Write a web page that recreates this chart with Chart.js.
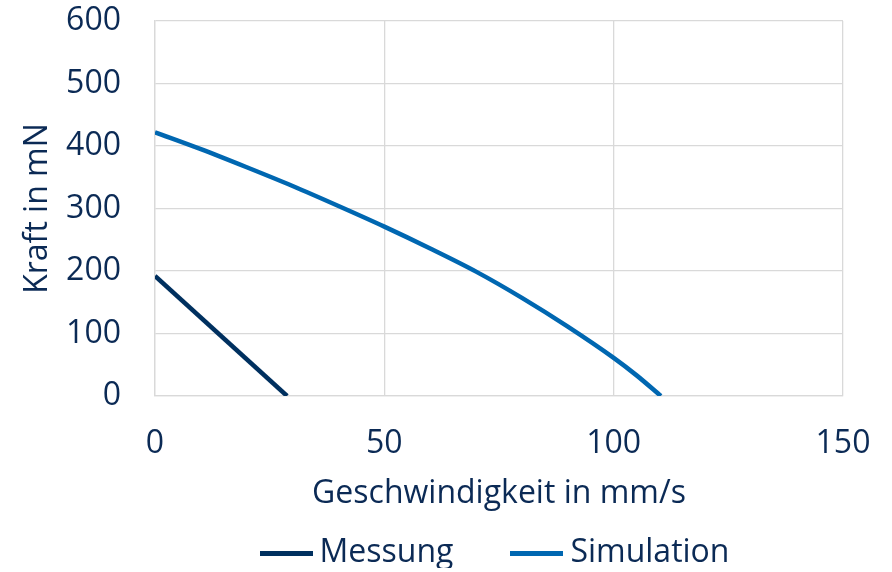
<!DOCTYPE html>
<html>
<head>
<meta charset="utf-8">
<script src="https://cdn.jsdelivr.net/npm/chart.js@4.4.1/dist/chart.umd.min.js"></script>
<style>
html,body{margin:0;padding:0;background:#fff;}
#wrap{width:892px;height:572px;}
</style>
</head>
<body>
<div id="wrap"><canvas id="c" width="892" height="572"></canvas></div>
<script>
const seriesNames = ['Messung', 'Simulation'];
const messungX = [0, 28.8];
const messungY = [192, 0];
const simX = [0, 10, 20, 30, 40, 50, 60, 70, 80, 90, 100, 105, 110.3];
const simY = [422, 395, 366, 336, 304, 271, 236, 199, 157, 111, 61, 33, 0];
const xTicks = [0, 50, 100, 150];
const yTicks = [0, 100, 200, 300, 400, 500, 600];
const xTitle = 'Geschwindigkeit in mm/s';
const yTitle = 'Kraft in mN';

const textColor = '#0b2a55';
const colMessung = '#00305f';
const colSim = '#0067b1';
const font = {family: '"Open Sans", sans-serif', size: 32};

function pts(xs, ys){ return xs.map((x,i)=>({x:x, y:ys[i]})); }

function sampleLine(color){
  const c = document.createElement('canvas');
  c.width = 53; c.height = 5;
  const g = c.getContext('2d');
  g.fillStyle = color; g.fillRect(0, 0, 53, 5);
  return c;
}
const legendImgs = [sampleLine(colMessung), sampleLine(colSim)];

new Chart(document.getElementById('c'), {
  type: 'scatter',
  data: {
    datasets: [
      {label: seriesNames[0], data: pts(messungX, messungY), showLine: true,
       borderColor: colMessung, backgroundColor: colMessung, borderWidth: 4.5,
       pointRadius: 0, tension: 0},
      {label: seriesNames[1], data: pts(simX, simY), showLine: true,
       borderColor: colSim, backgroundColor: colSim, borderWidth: 4.5,
       pointRadius: 0, cubicInterpolationMode: 'monotone'}
    ]
  },
  options: {
    responsive: false,
    animation: false,
    layout: {padding: {top: 21, right: 49, left: 0, bottom: 4}},
    scales: {
      x: {
        type: 'linear', min: 0, max: 150,
        afterBuildTicks: s => { s.ticks = xTicks.map(v => ({value: v})); },
        afterFit: s => { s.height = 75; s.paddingLeft = 0; s.paddingRight = 0; },
        grid: {color: '#d9d9d9', lineWidth: 1.3, drawTicks: false},
        border: {color: '#d9d9d9', width: 1.3},
        ticks: {color: textColor, font: font, padding: 29, maxRotation: 0},
        title: {display: true, text: xTitle, color: textColor, font: font, padding: {top: 0, bottom: -42}}
      },
      y: {
        type: 'linear', min: 0, max: 600,
        afterBuildTicks: s => { s.ticks = yTicks.map(v => ({value: v})); },
        afterFit: s => { s.width = 155; s.paddingTop = 0; s.paddingBottom = 0; },
        grid: {color: '#d9d9d9', lineWidth: 1.3, drawTicks: false},
        border: {color: '#d9d9d9', width: 1.3},
        ticks: {color: textColor, font: font, padding: 34},
        title: {display: true, text: yTitle, color: textColor, font: font, padding: {top: 19, bottom: 0}}
      }
    },
    plugins: {
      tooltip: {enabled: false},
      legend: {
        position: 'bottom',
        fullSize: false,
        maxHeight: 97,
        labels: {
          color: textColor, font: font, usePointStyle: true, pointStyleWidth: 35,
          boxHeight: 5, padding: 66,
          generateLabels: chart => {
            const items = Chart.defaults.plugins.legend.labels.generateLabels(chart);
            items.forEach((it, i) => { it.lineWidth = 0; it.pointStyle = legendImgs[i]; });
            return items;
          }
        }
      }
    }
  }
});
</script>
</body>
</html>
